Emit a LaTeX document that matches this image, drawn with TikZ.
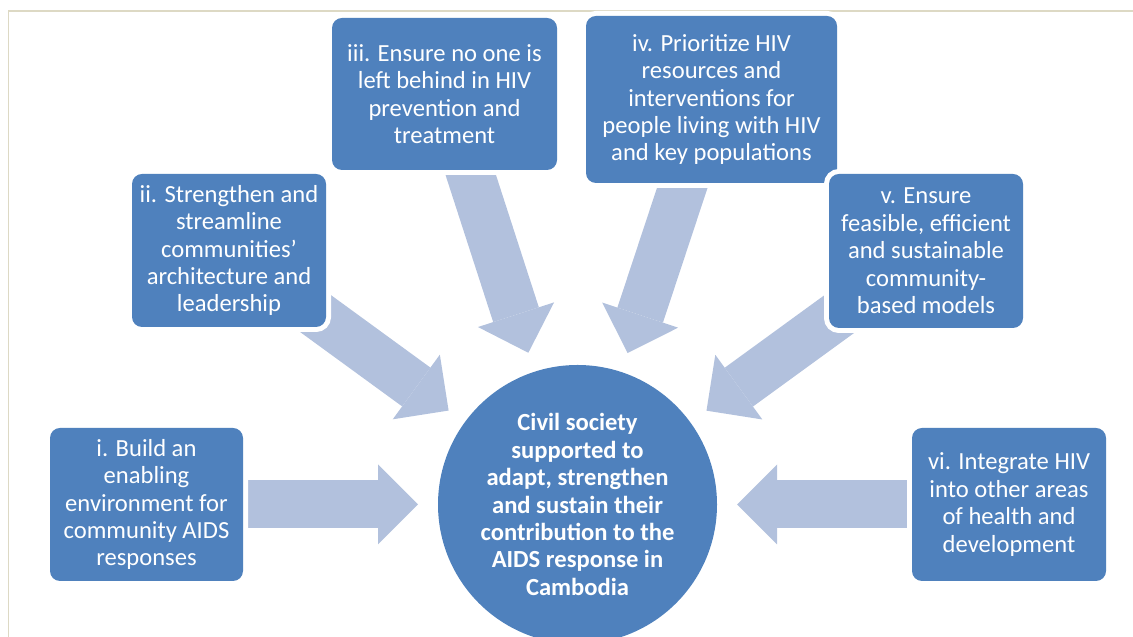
\documentclass[tikz,border=0pt]{standalone}
\usepackage{fontspec}
\setmainfont{Carlito}
\usetikzlibrary{arrows.meta,backgrounds}
\definecolor{goalblue}{HTML}{4F81BD}
\definecolor{pale}{HTML}{B2C1DD}
\definecolor{edgeline}{HTML}{DDD9C4}

\begin{document}
\begin{tikzpicture}[
    goal/.style={rectangle,rounded corners=0.2cm,fill=goalblue,text=white,align=center,
      inner sep=2pt,font=\fontsize{14}{15.6}\selectfont,
      preaction={draw=white,line width=0.2cm}},
    hub/.style={circle,fill=goalblue,text=white,align=center,inner sep=0pt,outer sep=0pt,
      minimum size=5.58cm,font=\bfseries\fontsize{14}{15.6}\selectfont},
    feed/.style={pale,line width=0.96cm,shorten >=0.4cm,
      -{Triangle[length=0.8cm,width=1.6cm,line width=0pt]}}]
  \clip (0,0) rectangle (22.66,12.74);
  \draw[edgeline,line width=0.8pt] (0.17,0) |- (22.66,12.52);
  \node[hub] (hub) at (11.55,2.65) {Civil society\\supported to\\adapt, strengthen\\and sustain their\\contribution to the\\AIDS response in\\Cambodia};
  \node[goal,minimum width=3.86cm,minimum height=3.06cm] (i) at (2.93,2.65)
    {i. Build an\\enabling\\environment for\\community AIDS\\responses};
  \node[goal,minimum width=3.88cm,minimum height=3.06cm] (ii) at (4.58,7.73)
    {ii. Strengthen and\\streamline\\communities’\\architecture and\\leadership};
  \node[goal,minimum width=4.50cm,minimum height=3.04cm] (iii) at (8.89,10.86)
    {iii. Ensure no one is\\left behind in HIV\\prevention and\\treatment};
  \node[goal,minimum width=5.02cm,minimum height=3.34cm] (iv) at (14.23,10.75)
    {iv. Prioritize HIV\\resources and\\interventions for\\people living with HIV\\and key populations};
  \node[goal,minimum width=3.88cm,minimum height=3.08cm] (v) at (18.52,7.72)
    {v. Ensure\\feasible, efficient\\and sustainable\\community-\\based models};
  \node[goal,minimum width=3.88cm,minimum height=3.06cm] (vi) at (20.18,2.65)
    {vi. Integrate HIV\\into other areas\\of health and\\development};
  \begin{scope}[on background layer]
    \foreach \g in {i,ii,iii,iv,v,vi}
      \draw[feed] (\g.center) -- (hub);
  \end{scope}
\end{tikzpicture}
\end{document}
